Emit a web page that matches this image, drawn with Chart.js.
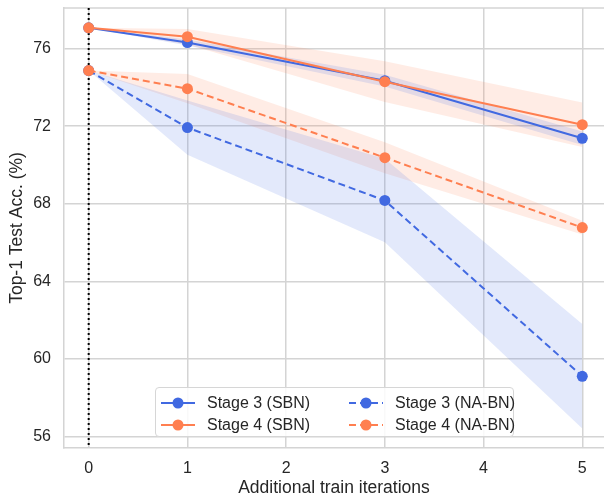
<!DOCTYPE html>
<html>
<head>
<meta charset="utf-8">
<script src="https://cdn.jsdelivr.net/npm/chart.js@4.4.1/dist/chart.umd.min.js"></script>
<style>
  html, body { margin: 0; padding: 0; background: #fff; overflow: hidden; }
  #wrap { position: relative; width: 604px; height: 500px; }
  #legend {
    position: absolute; left: 155px; top: 387px; width: 359px; height: 50px;
    border: 1px solid #d6d6d6; border-radius: 4px; background: rgba(255,255,255,0.85);
    font-family: "Liberation Sans", Arial, sans-serif; font-size: 16px; color: #262626;
    display: grid; grid-template-columns: 188px 171px; grid-auto-flow: column;
    grid-template-rows: 22px 22px; padding-top: 4px; box-sizing: border-box;
  }
  .item { display: flex; align-items: center; padding-left: 5px; white-space: nowrap; }
  .item svg { margin-right: 12px; }
</style>
</head>
<body>
<div id="wrap">
  <canvas id="chart" width="604" height="500"></canvas>
  <div id="legend"></div>
</div>
<script>
const iterations = [0, 1, 3, 5];
const xTicks = [0, 1, 2, 3, 4, 5];
const yTicks = [56, 60, 64, 68, 72, 76];

const stage3SBN = [77.08, 76.32, 74.35, 71.38];
const stage3SBNStd = [0, 0.15, 0.3, 0.35];
const stage4SBN = [77.08, 76.62, 74.3, 72.08];
const stage4SBNStd = [0, 0.4, 1.05, 1.15];
const stage3NABN = [74.87, 71.93, 68.17, 59.1];
const stage3NABNStd = [0, 1.4, 2.15, 2.7];
const stage4NABN = [74.87, 73.94, 70.38, 66.77];
const stage4NABNStd = [0, 0.75, 0.8, 0.35];

const BLUE = '#4169e1';
const ORANGE = '#ff7f50';
const BLUE_FILL = 'rgba(65,105,225,0.15)';
const ORANGE_FILL = 'rgba(255,127,80,0.15)';
const GRID = '#d4d4d4';
const FONT = '"Liberation Sans", Arial, sans-serif';

const series = [
  { label: 'Stage 3 (SBN)', mean: stage3SBN, std: stage3SBNStd, color: BLUE, fill: BLUE_FILL, dash: [] },
  { label: 'Stage 4 (SBN)', mean: stage4SBN, std: stage4SBNStd, color: ORANGE, fill: ORANGE_FILL, dash: [] },
  { label: 'Stage 3 (NA-BN)', mean: stage3NABN, std: stage3NABNStd, color: BLUE, fill: BLUE_FILL, dash: [7, 4] },
  { label: 'Stage 4 (NA-BN)', mean: stage4NABN, std: stage4NABNStd, color: ORANGE, fill: ORANGE_FILL, dash: [7, 4] },
];

function points(values) {
  return iterations.map((x, i) => ({ x, y: values[i] }));
}

const datasets = [];
// lines first so they end up on top; later series above earlier ones
series.forEach((s, k) => {
  datasets.push({
    label: s.label,
    data: points(s.mean),
    borderColor: s.color,
    backgroundColor: s.color,
    borderWidth: 2,
    borderDash: s.dash,
    pointRadius: 5.5,
    pointHoverRadius: 5.5,
    pointBorderWidth: 0,
    fill: false,
    order: 10 - k,
  });
});
series.forEach((s) => {
  const upper = datasets.length;
  datasets.push({
    label: s.label + ' upper',
    data: points(s.mean.map((m, i) => m + s.std[i])),
    borderWidth: 0, pointRadius: 0, fill: false, order: 50,
  });
  datasets.push({
    label: s.label + ' lower',
    data: points(s.mean.map((m, i) => m - s.std[i])),
    borderWidth: 0, pointRadius: 0, backgroundColor: s.fill,
    fill: { target: upper }, order: 50,
  });
});

// dotted marker at iteration 0 plus the top spine
const zeroLine = {
  id: 'zeroLine',
  beforeDatasetsDraw(chart) {
    const { ctx, chartArea, scales } = chart;
    const x = scales.x.getPixelForValue(0);
    ctx.save();
    ctx.strokeStyle = GRID;
    ctx.lineWidth = 1.5;
    ctx.beginPath();
    ctx.moveTo(chartArea.left, chartArea.top);
    ctx.lineTo(chartArea.right, chartArea.top);
    ctx.stroke();
    ctx.strokeStyle = '#000';
    ctx.lineWidth = 2;
    ctx.setLineDash([2, 3]);
    ctx.beginPath();
    ctx.moveTo(x, chartArea.top);
    ctx.lineTo(x, chartArea.bottom);
    ctx.stroke();
    ctx.restore();
  },
};

new Chart(document.getElementById('chart'), {
  type: 'line',
  data: { datasets },
  plugins: [zeroLine],
  options: {
    responsive: false,
    animation: false,
    layout: { autoPadding: false, padding: { top: 8, right: 0, left: 0, bottom: 0 } },
    plugins: { legend: { display: false }, tooltip: { enabled: false } },
    scales: {
      x: {
        type: 'linear',
        min: -0.25,
        max: 5.22,
        afterBuildTicks: (axis) => { axis.ticks = xTicks.map((v) => ({ value: v })); },
        afterFit: (axis) => { axis.height = 52; axis.paddingLeft = 0; axis.paddingRight = 0; },
        grid: { color: GRID, lineWidth: 1.5, drawTicks: false },
        border: { color: GRID, width: 1.5 },
        ticks: { color: '#262626', font: { family: FONT, size: 16 }, padding: 11 },
        title: { display: true, text: 'Additional train iterations', color: '#262626',
                 font: { family: FONT, size: 17.5 }, padding: { top: 0, bottom: 1 } },
      },
      y: {
        min: 55.4,
        max: 78.1,
        afterBuildTicks: (axis) => { axis.ticks = yTicks.map((v) => ({ value: v })); },
        afterFit: (axis) => { axis.width = 64; axis.paddingTop = 0; axis.paddingBottom = 0; },
        grid: { color: GRID, lineWidth: 1.5, drawTicks: false },
        border: { color: GRID, width: 1.5 },
        ticks: { color: '#262626', font: { family: FONT, size: 16 }, padding: 13 },
        title: { display: true, text: 'Top-1 Test Acc. (%)', color: '#262626',
                 font: { family: FONT, size: 17.5 }, padding: { top: 7, bottom: 0 } },
      },
    },
  },
});

// legend built from the line datasets
const legend = document.getElementById('legend');
series.forEach((s) => {
  const item = document.createElement('div');
  item.className = 'item';
  const dash = s.dash.length ? `stroke-dasharray="${s.dash.join(' ')}"` : '';
  item.innerHTML =
    `<svg width="34" height="12"><line x1="0" y1="6" x2="34" y2="6" stroke="${s.color}" stroke-width="2" ${dash}/>` +
    `<circle cx="17" cy="6" r="5.5" fill="${s.color}"/></svg><span>${s.label}</span>`;
  legend.appendChild(item);
});
</script>
</body>
</html>
